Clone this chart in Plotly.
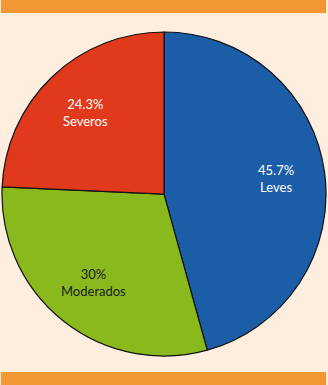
import math
import plotly.graph_objects as go

categories = ["Leves", "Moderados", "Severos"]
values = [45.7, 30, 24.3]
pct_labels = ["45.7%", "30%", "24.3%"]
colors = ["#1C5DA8", "#8AB91E", "#E0391C"]
text_colors = ["#FFFFFF", "#1A1A1A", "#FFFFFF"]

W, H = 328, 385
dom_x = [0.006, 0.994]
dom_y = [0.075, 0.917]

fig = go.Figure(go.Pie(
    labels=categories,
    values=values,
    textinfo="none",
    sort=False,
    direction="clockwise",
    rotation=0,
    marker=dict(colors=colors, line=dict(color="#111111", width=1.2)),
    domain=dict(x=dom_x, y=dom_y),
    showlegend=False,
    hoverinfo="skip",
))

# label positions derived from the slice angles
cx = (dom_x[0] + dom_x[1]) / 2
cy = (dom_y[0] + dom_y[1]) / 2
radius_px = min((dom_x[1] - dom_x[0]) * W, (dom_y[1] - dom_y[0]) * H) / 2
label_r = 0.70 * radius_px
total = sum(values)
annotations = []
cum = 0.0
for cat, val, pct, tc in zip(categories, values, pct_labels, text_colors):
    mid = (cum + val / 2) / total * 2 * math.pi
    cum += val
    ax = cx + label_r * math.sin(mid) / W
    ay = cy + label_r * math.cos(mid) / H
    annotations.append(dict(
        x=ax, y=ay, xref="paper", yref="paper", text=f"{pct}<br>{cat}",
        showarrow=False, xanchor="center", yanchor="middle", align="center",
        font=dict(family="Lato", size=13, color=tc),
    ))

fig.update_layout(
    width=W, height=H,
    margin=dict(l=0, r=0, t=0, b=0),
    paper_bgcolor="#FDEEDF",
    plot_bgcolor="#FDEEDF",
    annotations=annotations,
    shapes=[
        dict(type="rect", xref="paper", yref="paper", x0=0.003, x1=0.994,
             y0=1 - 13 / 385, y1=1, fillcolor="#F29734", line=dict(width=0)),
        dict(type="rect", xref="paper", yref="paper", x0=0.003, x1=0.994,
             y0=0, y1=1 - 372 / 385, fillcolor="#F29734", line=dict(width=0)),
    ],
)

fig.write_html(
    "out.html",
    config={"displayModeBar": False},
    post_script="document.body.style.margin='0';document.body.style.overflow='hidden';",
)
